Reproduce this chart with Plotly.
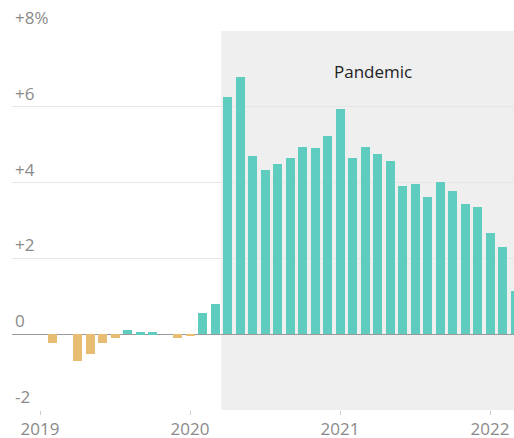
import plotly.graph_objects as go

months = ["2019-01", "2019-02", "2019-03", "2019-04", "2019-05", "2019-06",
          "2019-07", "2019-08", "2019-09", "2019-10", "2019-11", "2019-12",
          "2020-01", "2020-02", "2020-03", "2020-04", "2020-05", "2020-06",
          "2020-07", "2020-08", "2020-09", "2020-10", "2020-11", "2020-12",
          "2021-01", "2021-02", "2021-03", "2021-04", "2021-05", "2021-06",
          "2021-07", "2021-08", "2021-09", "2021-10", "2021-11", "2021-12",
          "2022-01", "2022-02", "2022-03"]
values = [0.0, -0.22, 0.0, -0.72, -0.53, -0.22,
          -0.10, 0.12, 0.05, 0.05, 0.0, -0.11,
          -0.06, 0.55, 0.80, 6.25, 6.79, 4.70,
          4.34, 4.48, 4.65, 4.94, 4.92, 5.22,
          5.93, 4.65, 4.94, 4.76, 4.57, 3.92,
          3.95, 3.62, 4.02, 3.77, 3.44, 3.35,
          2.68, 2.29, 1.15]
year_ticks = ["2019", "2020", "2021", "2022"]
ytick_vals = [-2, 0, 2, 4, 6, 8]
ytick_labels = ["-2", "0", "+2", "+4", "+6", "+8%"]
pandemic_start = "2020-04"
pandemic_label = "Pandemic"

TEAL = "#5ecdbf"
GOLD = "#e6bd72"

idx = list(range(len(months)))
colors = [TEAL if v > 0 else GOLD for v in values]
tickvals = [months.index(y + "-01") for y in year_ticks]

fig = go.Figure()
fig.add_trace(go.Bar(x=idx, y=values, marker_color=colors, width=0.72,
                     marker_line_width=0, hoverinfo="skip"))

ps = months.index(pandemic_start) - 0.5
fig.add_shape(type="rect", xref="x", yref="y", x0=ps, x1=45, y0=-2, y1=8,
              fillcolor="#efefef", line_width=0, layer="below")

fig.add_annotation(x=26.6, y=6.92, xref="x", yref="y", text=pandemic_label,
                   showarrow=False, font=dict(family="Open Sans", size=17, color="#222"))

for v, t in zip(ytick_vals, ytick_labels):
    fig.add_annotation(x=0, y=v, xref="paper", yref="y", text=t, showarrow=False,
                       xanchor="left", yanchor="bottom", xshift=1, yshift=0,
                       font=dict(family="Open Sans", size=17, color="#8a8a8a"))

fig.update_layout(
    width=514, height=438,
    margin=dict(l=12, r=0, t=31, b=28, autoexpand=False),
    paper_bgcolor="white", plot_bgcolor="white",
    showlegend=False, bargap=0,
    xaxis=dict(range=[-2.24, 37.92], tickmode="array", tickvals=tickvals,
               ticktext=year_ticks, showgrid=False, zeroline=False,
               ticks="outside", ticklen=4, tickcolor="#cccccc",
               tickfont=dict(family="Open Sans", size=17, color="#8a8a8a"),
               showline=False, fixedrange=True),
    yaxis=dict(range=[-2, 8], tickvals=ytick_vals, showticklabels=False,
               showgrid=True, gridcolor="#e6e6e6", gridwidth=1,
               zeroline=True, zerolinecolor="#9a9a9a", zerolinewidth=1,
               fixedrange=True),
)

fig.write_html("out.html", config={"displayModeBar": False},
               post_script="document.body.style.margin='0';")
